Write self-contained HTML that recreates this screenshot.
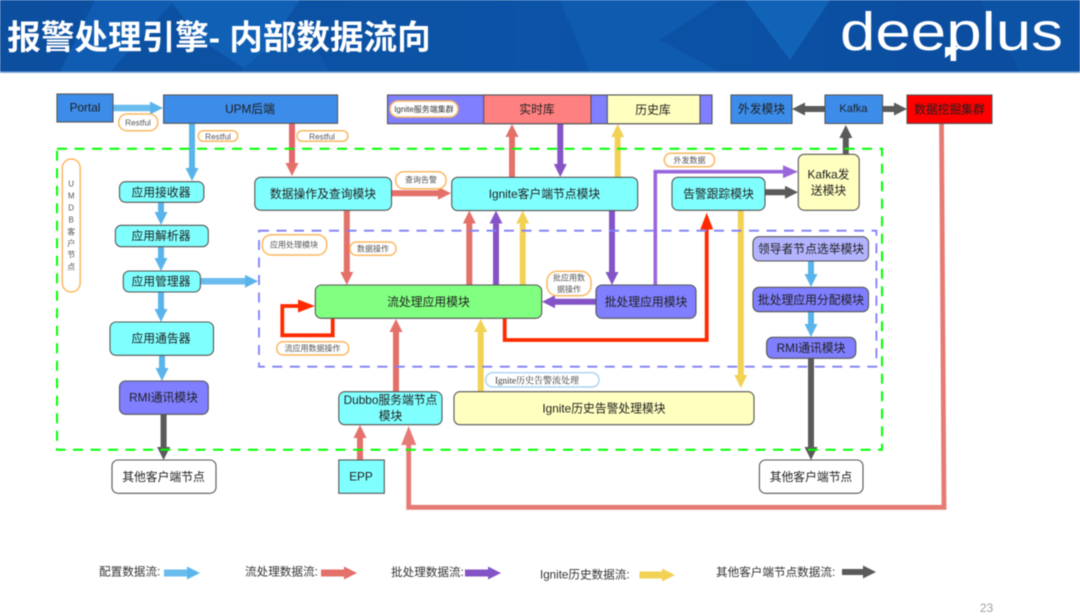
<!DOCTYPE html>
<html lang="zh"><head><meta charset="utf-8"><title>报警处理引擎</title>
<style>
html,body{margin:0;padding:0;background:#fff;width:1080px;height:616px;overflow:hidden}
svg{display:block;filter:blur(.5px)}
text{font-family:"Liberation Sans","Noto Sans CJK SC",sans-serif;dominant-baseline:central;text-anchor:middle;fill:#1f1f1f;font-size:11.8px}
.s{font-size:8px;fill:#555}
.n{stroke:#555;stroke-width:1.1}
.p{fill:#fff;stroke:#fbb860;stroke-width:1.5}
.a{fill:none;stroke-width:6;stroke-linejoin:miter}
.l{text-anchor:start;fill:#333;font-size:11.6px}
</style></head><body>
<svg width="1080" height="616" viewBox="0 0 1080 616" xmlns="http://www.w3.org/2000/svg">
<defs>
<linearGradient id="hg" x1="0" y1="0" x2="1" y2="0"><stop offset="0" stop-color="#0c4f9f"/><stop offset=".5" stop-color="#0c54a8"/><stop offset="1" stop-color="#0b4c9e"/></linearGradient>
<marker id="mB" viewBox="0 0 13 13" refX="3" refY="6.5" markerWidth="13" markerHeight="13" markerUnits="userSpaceOnUse" orient="auto"><path d="M0 0L13 6.5L0 13Z" fill="#5ab4ec"/></marker>
<marker id="mR" viewBox="0 0 13 13" refX="3" refY="6.5" markerWidth="13" markerHeight="13" markerUnits="userSpaceOnUse" orient="auto"><path d="M0 0L13 6.5L0 13Z" fill="#e4706a"/></marker>
<marker id="mP" viewBox="0 0 13 13" refX="3" refY="6.5" markerWidth="13" markerHeight="13" markerUnits="userSpaceOnUse" orient="auto"><path d="M0 0L13 6.5L0 13Z" fill="#8454c6"/></marker>
<marker id="mY" viewBox="0 0 13 13" refX="3" refY="6.5" markerWidth="13" markerHeight="13" markerUnits="userSpaceOnUse" orient="auto"><path d="M0 0L13 6.5L0 13Z" fill="#f2d254"/></marker>
<marker id="mG" viewBox="0 0 13 13" refX="3" refY="6.5" markerWidth="13" markerHeight="13" markerUnits="userSpaceOnUse" orient="auto"><path d="M0 0L13 6.5L0 13Z" fill="#5a5a5a"/></marker>
<marker id="mT" viewBox="0 0 15 13" refX="1" refY="6.5" markerWidth="15" markerHeight="13" markerUnits="userSpaceOnUse" orient="auto"><path d="M0 0L15 6.5L0 13Z" fill="#9a66dc"/></marker>
<marker id="mS" viewBox="0 0 19 15" refX="1" refY="7.5" markerWidth="19" markerHeight="15" markerUnits="userSpaceOnUse" orient="auto"><path d="M0 0L19 7.5L0 15Z" fill="#e67b75"/></marker>
<marker id="mF" viewBox="0 0 17 13" refX="1" refY="6.5" markerWidth="17" markerHeight="13" markerUnits="userSpaceOnUse" orient="auto"><path d="M0 0L17 6.5L0 13Z" fill="#ff2a00"/></marker>
</defs>

<!-- header -->
<rect x="0" y="0" width="1080" height="72" fill="url(#hg)"/>
<polygon points="95,0 175,0 110,72 60,72" fill="#0f5cb2"/>
<polygon points="170,0 300,0 250,72 200,40" fill="#1060b6"/>
<polygon points="240,72 300,20 330,72" fill="#0e57aa"/>
<polygon points="560,0 720,0 660,40 720,72 590,72" fill="#0e5bb0"/>
<polygon points="745,0 830,0 790,60" fill="#1163b8"/>
<polygon points="980,0 1080,0 1080,72 1020,72" fill="#0c52a5"/>
<rect x="0" y="71.5" width="1080" height="1.5" fill="#7fa9d8"/>
<text x="219" y="38.5" style="font-size:33.6px;font-weight:700;fill:#fff">报警处理引擎- 内部数据流向</text>
<text x="951.5" y="50" textLength="223" lengthAdjust="spacingAndGlyphs" style="font-size:54px;fill:#fff;dominant-baseline:auto">deeplus</text>
<polygon points="945,47 961,47 945,58" fill="#fff"/>

<!-- arrows: blue -->
<path class="a" style="stroke-width:6.5" d="M113 108H153" stroke="#6bbcee" marker-end="url(#mB)"/>
<path class="a" d="M192 123V171" stroke="#5ab4ec" marker-end="url(#mB)"/>
<path class="a" d="M161 202V215" stroke="#5ab4ec" marker-end="url(#mB)"/>
<path class="a" d="M161 246.7V261" stroke="#5ab4ec" marker-end="url(#mB)"/>
<path class="a" d="M161 292V312" stroke="#5ab4ec" marker-end="url(#mB)"/>
<path class="a" d="M162 355V371" stroke="#5ab4ec" marker-end="url(#mB)"/>
<path class="a" style="stroke-width:6.5" d="M200 281.3H248" stroke="#6bbcee" marker-end="url(#mB)"/>
<path class="a" d="M811 261V277" stroke="#5ab4ec" marker-end="url(#mB)"/>
<path class="a" d="M811 312V327" stroke="#5ab4ec" marker-end="url(#mB)"/>
<path class="a" style="stroke-width:7" d="M164 573H190" stroke="#6bbcee" marker-end="url(#mB)"/>
<!-- arrows: salmon red -->
<path class="a" d="M292 123V166" stroke="#e4666a" marker-end="url(#mR)"/>
<path class="a" d="M391.5 193.3H441" stroke="#e4706a" marker-end="url(#mR)"/>
<path class="a" d="M346.8 210V275" stroke="#e4706a" marker-end="url(#mR)"/>
<path class="a" d="M512 177V134" stroke="#e4706a" marker-end="url(#mR)"/>
<path class="a" d="M469.3 285V220.6" stroke="#e4706a" marker-end="url(#mR)"/>
<path class="a" d="M396 392V329" stroke="#e4706a" marker-end="url(#mR)"/>
<path class="a" d="M360 460V435" stroke="#e4706a" marker-end="url(#mR)"/>
<path class="a" style="stroke-width:7" d="M321 573H347" stroke="#e4706a" marker-end="url(#mR)"/>
<!-- arrows: purple -->
<path class="a" d="M560.3 124V167" stroke="#8454c6" marker-end="url(#mP)"/>
<path class="a" d="M612 210V275" stroke="#8454c6" marker-end="url(#mP)"/>
<path class="a" d="M496 285V220.6" stroke="#8454c6" marker-end="url(#mP)"/>
<path class="a" d="M596 301.7H552" stroke="#8454c6" marker-end="url(#mP)"/>
<path class="a" style="stroke-width:7" d="M465 573H491" stroke="#8454c6" marker-end="url(#mP)"/>
<path class="a" style="stroke-width:3.6" d="M655.3 285V171.7H784" stroke="#9a66dc" marker-end="url(#mT)"/>
<!-- arrows: yellow -->
<path class="a" d="M617.7 177V134" stroke="#f2d254" marker-end="url(#mY)"/>
<path class="a" d="M522.7 285V220.6" stroke="#f2d254" marker-end="url(#mY)"/>
<path class="a" d="M480.7 392V329" stroke="#f2d254" marker-end="url(#mY)"/>
<path class="a" d="M740.8 210V378" stroke="#f2d254" marker-end="url(#mY)"/>
<path class="a" style="stroke-width:7" d="M639.5 575H665" stroke="#f2d254" marker-end="url(#mY)"/>
<!-- arrows: gray -->
<path class="a" d="M163.6 414V450" stroke="#5a5a5a" marker-end="url(#mG)"/>
<path class="a" d="M765 192.3H788" stroke="#5a5a5a" marker-end="url(#mG)"/>
<path class="a" d="M845.8 154V135" stroke="#5a5a5a" marker-end="url(#mG)"/>
<path class="a" d="M825 109H802" stroke="#5a5a5a" marker-end="url(#mG)"/>
<path class="a" d="M882 109H897" stroke="#5a5a5a" marker-end="url(#mG)"/>
<path class="a" d="M811 358V450" stroke="#5a5a5a" marker-end="url(#mG)"/>
<path class="a" d="M842 572H866" stroke="#5a5a5a" marker-end="url(#mG)"/>
<!-- big routed arrows -->
<path class="a" style="stroke-width:4.8" d="M941.5 123L944 507.3H408.7V444" stroke="#e67b75" marker-end="url(#mS)"/>
<path class="a" style="stroke-width:3.8" d="M504.7 318V340H706.7V228.7" stroke="#ff2a00" marker-end="url(#mF)"/>
<path class="a" style="stroke-width:3.8" d="M332.7 318V335.3H282.3V306H299" stroke="#ff2a00" marker-end="url(#mF)"/>

<!-- dashed groups -->
<rect x="57" y="148.7" width="825" height="301" fill="none" stroke="#00ff00" stroke-width="2" stroke-dasharray="10 7.5"/>
<rect x="259" y="230.7" width="617.4" height="136" fill="none" stroke="#7f7fff" stroke-width="1.8" stroke-dasharray="10 7.5"/>

<!-- top row -->
<rect class="n" x="57" y="94" width="56" height="28" fill="#3c8cea"/>
<text x="85" y="107.5">Portal</text>
<rect class="n" x="163.6" y="95" width="174" height="28.3" fill="#3c8cea"/>
<text x="250" y="109">UPM后端</text>
<rect class="n" x="387.5" y="95" width="324.5" height="28.7" fill="#7f7fff"/>
<rect class="n" x="483.7" y="95" width="107.3" height="28.7" fill="#ff8080"/>
<text x="537" y="109.5">实时库</text>
<rect class="n" x="607.3" y="95" width="92.7" height="28.7" fill="#ffffc0"/>
<text x="653" y="110">历史库</text>
<rect class="n" x="731" y="95" width="61" height="28.5" fill="#3c8cea"/>
<text x="761.5" y="109">外发模块</text>
<rect class="n" x="825" y="95" width="57.6" height="28.5" fill="#3c8cea"/>
<text x="853.5" y="109" style="font-size:11px">Kafka</text>
<rect class="n" x="907" y="95" width="85" height="28.5" fill="#ff0000"/>
<text x="949.5" y="109.5">数据挖掘集群</text>

<!-- nodes -->
<g>
<rect class="n" x="119.5" y="181.7" width="84.4" height="20.6" rx="6" fill="#80ffff"/><text x="161" y="192.5">应用接收器</text>
<rect class="n" x="115.4" y="225.3" width="92.9" height="21.4" rx="6" fill="#80ffff"/><text x="161" y="236">应用解析器</text>
<rect class="n" x="123.3" y="271" width="77.1" height="21" rx="6" fill="#80ffff"/><text x="161" y="281.5">应用管理器</text>
<rect class="n" x="110" y="322" width="103.5" height="33.3" rx="6" fill="#80ffff"/><text x="161" y="338.5">应用通告器</text>
<rect class="n" x="119.5" y="381" width="88.8" height="33.3" rx="6" fill="#7f7fff"/><text x="163.5" y="397.5">RMI通讯模块</text>
<rect class="n" x="112" y="460" width="104" height="33.3" rx="6" fill="#fff"/><text x="163.5" y="477">其他客户端节点</text>
<rect class="n" x="338.8" y="460" width="45.5" height="33.3" fill="#80ffff"/><text x="361" y="476.5">EPP</text>
<rect class="n" x="338.8" y="391.7" width="103.2" height="33" rx="6" fill="#80ffff"/><text x="390.5" y="400">Dubbo服务端节点</text><text x="390.5" y="416">模块</text>
<rect class="n" x="454" y="391.7" width="300" height="33" rx="6" fill="#ffffc0"/><text x="604" y="408.5">Ignite历史告警处理模块</text>
<rect class="n" x="254.8" y="177.3" width="136.7" height="33" rx="6" fill="#80ffff"/><text x="323" y="194">数据操作及查询模块</text>
<rect class="n" x="451.7" y="177.3" width="186" height="33.3" rx="6" fill="#80ffff"/><text x="544.5" y="194">Ignite客户端节点模块</text>
<rect class="n" x="672" y="177.3" width="93" height="33" rx="6" fill="#80ffff"/><text x="718.5" y="194">告警跟踪模块</text>
<rect class="n" x="798.3" y="154.3" width="60.9" height="56" rx="6" fill="#ffffc0"/><text x="828.5" y="174.5">Kafka发</text><text x="828.5" y="190.5">送模块</text>
<rect class="n" x="753" y="236.7" width="115.5" height="24.3" rx="6" fill="#b3b3ff"/><text x="811" y="249">领导者节点选举模块</text>
<rect class="n" x="753" y="287.3" width="115.5" height="24.4" rx="6" fill="#7f7fff"/><text x="811" y="300">批处理应用分配模块</text>
<rect class="n" x="766.6" y="337.3" width="89.2" height="21" rx="6" fill="#7f7fff"/><text x="811" y="348">RMI通讯模块</text>
<rect class="n" x="759.4" y="460" width="103.6" height="33.3" rx="6" fill="#fff"/><text x="811" y="477">其他客户端节点</text>
<rect class="n" x="315.3" y="285" width="226.4" height="33.3" rx="6" fill="#80ff80"/><text x="428.5" y="302">流处理应用模块</text>
<rect class="n" x="596" y="285" width="100" height="33.3" rx="6" fill="#7f7fff"/><text x="646" y="302">批处理应用模块</text>
</g>

<!-- labels -->
<rect class="p" x="62.3" y="159" width="17.9" height="133" rx="9"/>
<g class="s">
<text class="s" x="71.2" y="184">U</text><text class="s" x="71.2" y="196">M</text><text class="s" x="71.2" y="208">D</text><text class="s" x="71.2" y="220">B</text><text class="s" x="71.2" y="232">客</text><text class="s" x="71.2" y="243.5">户</text><text class="s" x="71.2" y="255">节</text><text class="s" x="71.2" y="267">点</text>
</g>
<rect class="p" x="390" y="101" width="68" height="16" rx="8"/><text class="s" x="424" y="109.5" style="fill:#333">Ignite服务端集群</text>
<rect class="p" x="118.8" y="114" width="38.9" height="16.7" rx="8"/><text class="s" x="138" y="122.5" style="font-size:8.3px">Restful</text>
<rect class="p" x="198.3" y="130.7" width="39.3" height="10.6" rx="5"/><text class="s" x="218" y="136.3" style="font-size:8.3px">Restful</text>
<rect class="p" x="297" y="130.7" width="50.8" height="10.6" rx="5"/><text class="s" x="322" y="136.3" style="font-size:8.3px">Restful</text>
<rect class="p" x="395.7" y="171.7" width="50.3" height="17" rx="8"/><text class="s" x="421" y="180">查询告警</text>
<rect class="p" x="664.3" y="153.3" width="50.3" height="13.4" rx="6.5"/><text class="s" x="689.5" y="160.3">外发数据</text>
<rect class="p" x="262.3" y="234.7" width="64.4" height="20.3" rx="9"/><text class="s" x="294" y="245">应用处理模块</text>
<rect class="p" x="350" y="242" width="46" height="13.3" rx="6.5"/><text class="s" x="373" y="249">数据操作</text>
<rect class="p" x="547" y="271.3" width="44" height="24.4" rx="10"/><text class="s" x="569" y="278">批应用数</text><text class="s" x="569" y="289.5">据操作</text>
<rect class="p" x="276.7" y="341.7" width="72" height="13.3" rx="6.5"/><text class="s" x="312.5" y="348.7">流应用数据操作</text>
<rect x="485.7" y="372.7" width="113.3" height="14.3" rx="7" fill="#fff" stroke="#a8d2f2" stroke-width="1.4"/>
<text x="537" y="380.3" style="font-family:'Liberation Serif','Noto Serif CJK SC',serif;font-size:9px;fill:#333">Ignite历史告警流处理</text>

<!-- legend -->
<text class="l" x="99" y="572">配置数据流:</text>
<text class="l" x="245" y="572">流处理数据流:</text>
<text class="l" x="391" y="572.5">批处理数据流:</text>
<text class="l" x="540" y="575">Ignite历史数据流:</text>
<text class="l" x="716" y="572.5">其他客户端节点数据流:</text>
<text x="986.5" y="608" style="font-size:12px;fill:#a0a0a0">23</text>
</svg>
</body></html>
